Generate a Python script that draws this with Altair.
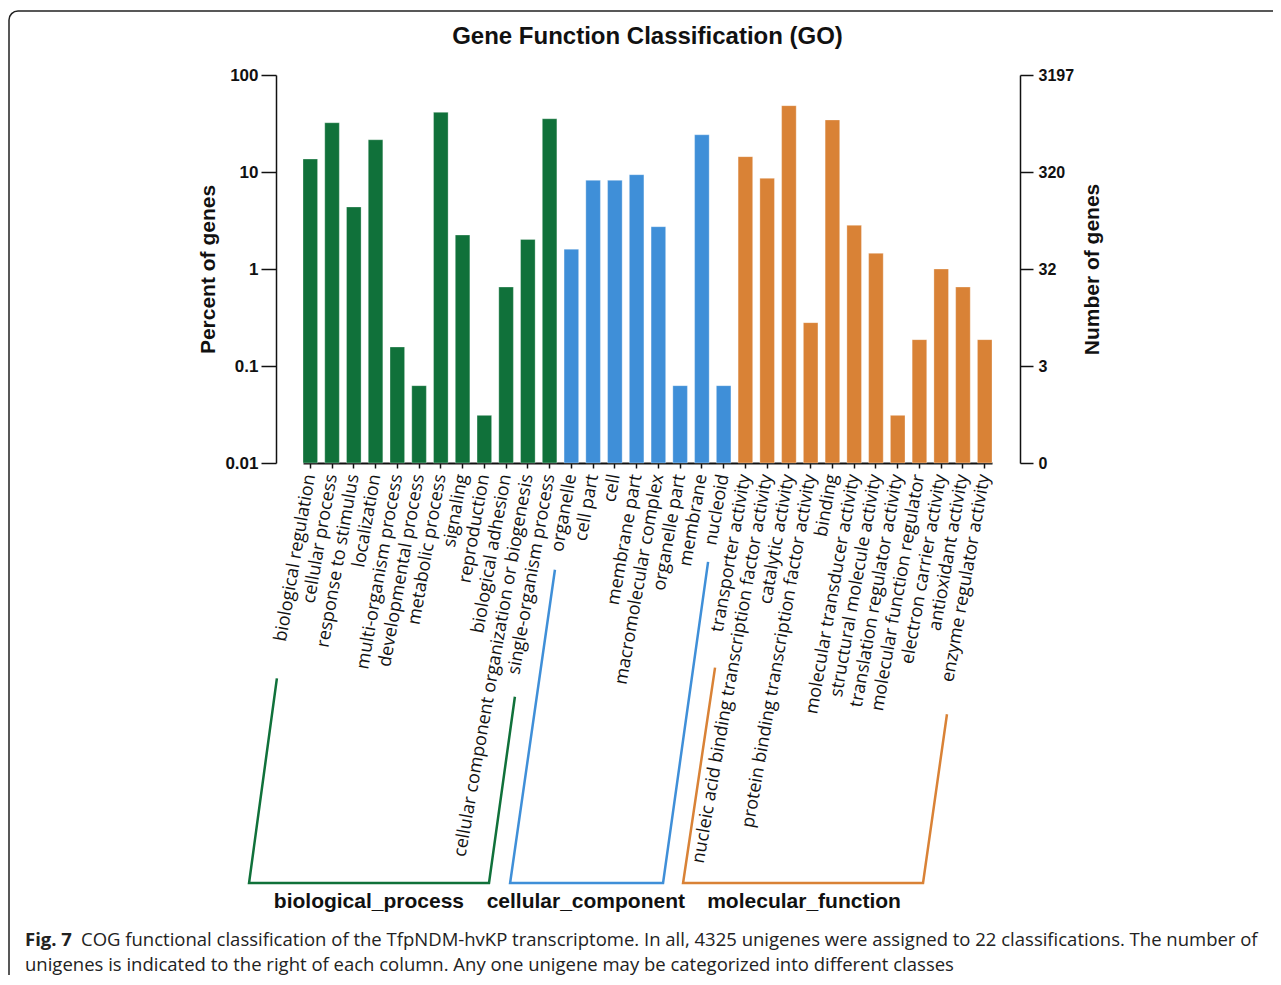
import altair as alt
import pandas as pd

# ---------------- data ----------------
categories = [
    "biological regulation", "cellular process", "response to stimulus", "localization",
    "multi-organism process", "developmental process", "metabolic process", "signaling",
    "reproduction", "biological adhesion", "cellular component organization or biogenesis",
    "single-organism process",
    "organelle", "cell part", "cell", "membrane part", "macromolecular complex",
    "organelle part", "membrane", "nucleoid",
    "transporter activity", "nucleic acid binding transcription factor activity",
    "catalytic activity", "protein binding transcription factor activity", "binding",
    "molecular transducer activity", "structural molecule activity",
    "translation regulator activity", "molecular function regulator",
    "electron carrier activity", "antioxidant activity", "enzyme regulator activity",
]
groups = (["biological_process"] * 12 + ["cellular_component"] * 8
          + ["molecular_function"] * 12)
percents = [
    13.6, 32.2, 4.36, 21.5, 0.157, 0.0627, 41.2, 2.24, 0.031, 0.652, 2.02, 35.4,
    1.6, 8.2, 8.2, 9.38, 2.73, 0.0627, 24.2, 0.0627,
    14.4, 8.6, 48.3, 0.28, 34.4, 2.82, 1.45, 0.031, 0.187, 1.0, 0.652, 0.187,
]
group_names = ["biological_process", "cellular_component", "molecular_function"]
group_colors = ["#10713a", "#3f8fd8", "#d98236"]

left_tick_values = [0.01, 0.1, 1, 10, 100]
left_tick_labels = ["0.01", "0.1", "1", "10", "100"]
right_tick_labels = ["0", "3", "32", "320", "3197"]

# group brackets: vertices in (bar-step units, log10(percent) units)
bracket_group = ["biological_process"] * 4 + ["cellular_component"] * 4 + ["molecular_function"] * 4
bracket_order = [0, 1, 2, 3] * 3
bracket_x = [-1.20, -2.48, 8.55, 9.74, 11.58, 9.52, 16.55, 18.62, 18.94, 17.47, 28.50, 29.60]
bracket_y = [-4.22, -6.33, -6.33, -4.41, -3.10, -6.33, -6.33, -3.02, -4.11, -6.33, -6.33, -4.59]
group_label_x = [3.03, 13.0, 23.03]
group_label_y = [-6.53, -6.53, -6.53]

chart_title = "Gene Function Classification (GO)"
caption_bold = "Fig. 7"
caption_line1 = ("COG functional classification of the TfpNDM-hvKP transcriptome. In all, 4325 "
                 "unigenes were assigned to 22 classifications. The number of")
caption_line2 = ("unigenes is indicated to the right of each column. Any one unigene may be "
                 "categorized into different classes")

# ---------------- layout ----------------
W, H = 689, 388
PAD_IN = 0.33
N = len(categories)

bars_df = pd.DataFrame({"category": categories, "group": groups,
                        "percent": percents, "base": [0.01] * N})
br_df = pd.DataFrame({"group": bracket_group, "k": bracket_order,
                      "bx": bracket_x, "by": bracket_y})
gl_df = pd.DataFrame({"group": group_names, "lx": group_label_x, "ly": group_label_y})
one = pd.DataFrame({"k": [0]})


def expr_map(values, labels):
    parts = [f"datum.value == {v} ? '{l}'" for v, l in zip(values, labels)]
    return " : ".join(parts) + " : ''"


bold_font = "Liberation Sans"
x_scale = alt.Scale(paddingInner=PAD_IN, paddingOuter=0)
y_scale = alt.Scale(type="log", domain=[0.01, 100], nice=False)
color_enc = alt.Color("group:N", scale=alt.Scale(domain=group_names, range=group_colors),
                      legend=None)

bars = alt.Chart(bars_df).mark_bar(stroke="white", strokeWidth=0.6, strokeOpacity=0.5).encode(
    x=alt.X("category:N", sort=categories, scale=x_scale, title=None,
            axis=alt.Axis(labelAngle=280, labelAlign="right", labelBaseline="middle",
                          labelFont="Open Sans", labelFontSize=18, labelColor="#111",
                          labelPadding=6, labelLimit=600, tickSize=5, tickWidth=1.5,
                          tickColor="#111", domainColor="#111", domainWidth=2)),
    y=alt.Y("percent:Q", scale=y_scale, title="Percent of genes",
            axis=alt.Axis(values=left_tick_values,
                          labelExpr=expr_map(left_tick_values, left_tick_labels),
                          offset=27, tickSize=15, tickWidth=1.5, tickColor="#111",
                          domainColor="#111", domainWidth=1.5, grid=False,
                          labelFont=bold_font, labelFontWeight="bold", labelFontSize=17,
                          labelColor="#111", labelPadding=3,
                          titleFont=bold_font, titleFontWeight="bold", titleFontSize=21,
                          titleColor="#111", titlePadding=6)),
    y2="base:Q",
    color=color_enc,
)

right_axis = alt.Chart(bars_df).mark_bar(opacity=0).encode(
    x=alt.X("category:N", sort=categories, scale=x_scale, axis=None),
    y=alt.Y("percent:Q", scale=y_scale, title="Number of genes",
            axis=alt.Axis(orient="right", values=left_tick_values,
                          labelExpr=expr_map(left_tick_values, right_tick_labels),
                          offset=28, tickSize=13, tickWidth=1.5, tickColor="#111",
                          domainColor="#111", domainWidth=1.5, grid=False,
                          labelFont=bold_font, labelFontWeight="bold", labelFontSize=16,
                          labelColor="#111", labelPadding=5,
                          titleFont=bold_font, titleFontWeight="bold", titleFontSize=21,
                          titleColor="#111", titlePadding=8, titleAngle=270,
                          titleBaseline="top")),
    y2="base:Q",
)

bx_scale = alt.Scale(domain=[0, N - PAD_IN], nice=False, zero=False)
by_scale = alt.Scale(domain=[-2, 2], nice=False, zero=False)

brackets = alt.Chart(br_df).mark_line(strokeWidth=2.5, clip=False).encode(
    x=alt.X("bx:Q", scale=bx_scale, axis=None),
    y=alt.Y("by:Q", scale=by_scale, axis=None),
    color=color_enc,
    detail="group:N",
    order="k:O",
)

group_labels = alt.Chart(gl_df).mark_text(
    font=bold_font, fontWeight="bold", fontSize=21, color="#111",
    align="center", baseline="middle", clip=False
).encode(
    x=alt.X("lx:Q", scale=bx_scale, axis=None),
    y=alt.Y("ly:Q", scale=by_scale, axis=None),
    text="group:N",
)

title_mark = alt.Chart(one).mark_text(
    text=chart_title, font=bold_font, fontWeight="bold", fontSize=24, color="#111",
    align="center", baseline="middle"
).encode(x=alt.value(W / 2), y=alt.value(-38))

cap_font = "Open Sans"
cap_a = alt.Chart(one).mark_text(text=caption_bold, font=cap_font, fontWeight="bold",
                                 fontSize=18.5, align="left", baseline="alphabetic",
                                 color="#222").encode(x=alt.value(-278), y=alt.value(871))
cap_b = alt.Chart(one).mark_text(text=caption_line1, font=cap_font, fontSize=18.5,
                                 align="left", baseline="alphabetic",
                                 color="#222").encode(x=alt.value(-222), y=alt.value(871))
cap_c = alt.Chart(one).mark_text(text=caption_line2, font=cap_font, fontSize=18.5,
                                 align="left", baseline="alphabetic",
                                 color="#222").encode(x=alt.value(-278), y=alt.value(896))
frame = alt.Chart(one).mark_rect(fillOpacity=0, stroke="#222", strokeWidth=1.5,
                                 cornerRadius=9).encode(
    x=alt.value(-294), x2=alt.value(1200), y=alt.value(-64), y2=alt.value(1000))

chart = alt.layer(
    bars, right_axis, brackets, group_labels, title_mark, cap_a, cap_b, cap_c, frame
).resolve_scale(
    x="independent", y="independent"
).properties(
    width=W, height=H,
    autosize=alt.AutoSizeParams(type="none"),
    padding={"left": 295, "top": 67, "right": 281, "bottom": 512},
).configure_view(stroke=None)

chart.save("out.html", embed_options={"renderer": "svg", "actions": False})
